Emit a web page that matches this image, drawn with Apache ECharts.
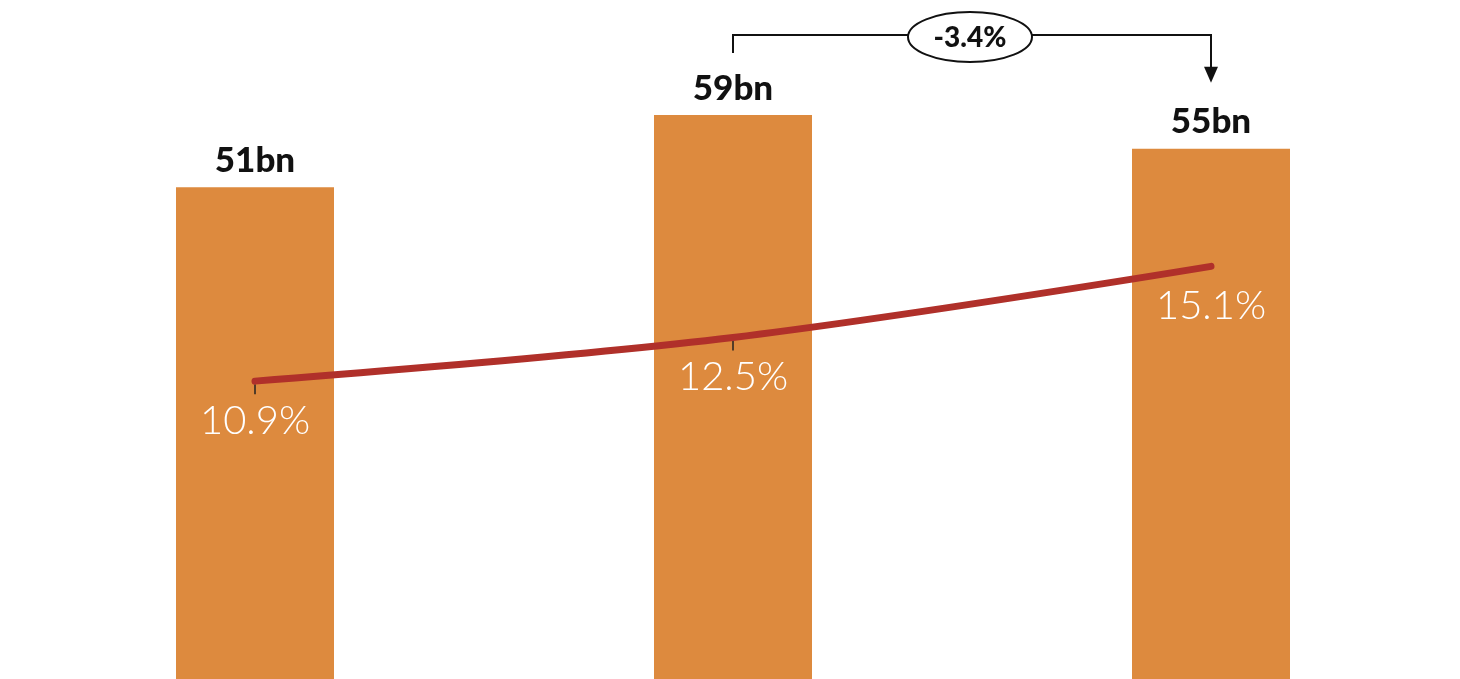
<!DOCTYPE html>
<html>
<head>
<meta charset="utf-8">
<script src="https://cdn.jsdelivr.net/npm/echarts@6/dist/echarts.min.js"></script>
<style>
html,body{margin:0;padding:0;background:#fff;}
#chart{width:1460px;height:679px;}
</style>
</head>
<body>
<div id="chart"></div>
<script>
const categories = ['A', 'B', 'C'];
const revenue = [51, 58.5, 55];          // bn
const margin = [10.9, 12.5, 15.1];       // %
const changeLabel = '-3.4%';

const chart = echarts.init(document.getElementById('chart'));
const option = {
  animation: false,
  backgroundColor: '#ffffff',
  grid: { left: 16, right: 10, top: 4, bottom: 0 },
  xAxis: {
    type: 'category', data: categories,
    axisLine: { show: false }, axisTick: { show: false }, axisLabel: { show: false }
  },
  yAxis: [
    { type: 'value', min: 0, max: 70, show: false, splitLine: { show: false } },
    { type: 'value', min: 0, max: 24.7, show: false, splitLine: { show: false } }
  ],
  series: [
    {
      type: 'bar', data: revenue, barWidth: 158, yAxisIndex: 0,
      itemStyle: { color: '#DD8A3E' },
      label: {
        show: true, position: 'top', distance: 9,
        formatter: p => Math.round(p.value) + 'bn',
        color: '#111', fontFamily: 'Lato', fontWeight: 900, fontSize: 35
      }
    },
    {
      type: 'line', data: margin, yAxisIndex: 1, smooth: 0.35,
      symbol: 'circle', symbolSize: 2, showSymbol: true,
      itemStyle: { color: 'transparent', borderWidth: 0 },
      lineStyle: { color: '#B0302A', width: 7, cap: 'round' },
      label: {
        show: true, position: 'bottom', distance: 19,
        formatter: p => p.value.toFixed(1) + '%',
        color: '#ffffff', fontFamily: 'Lato', fontWeight: 300, fontSize: 40
      },
      z: 5
    }
  ]
};
chart.setOption(option);

// annotation, positioned from the chart's own scales
const px = (i, v, ax) => chart.convertToPixel({ xAxisIndex: 0, yAxisIndex: ax }, [i, v]);
const b2 = px(1, revenue[1], 0);
const b3 = px(2, revenue[2], 0);
const bracketY = 35;
const leftY = b2[1] - 62;
const tipY = b3[1] - 66;
const midX = (b2[0] + b3[0]) / 2;
const graphics = [
  { type: 'polyline', z: 10, shape: { points: [[b2[0], leftY], [b2[0], bracketY], [b3[0], bracketY], [b3[0], tipY - 14]] },
    style: { stroke: '#111', lineWidth: 2, fill: null } },
  { type: 'polygon', z: 10, shape: { points: [[b3[0] - 7, tipY - 16], [b3[0] + 7, tipY - 16], [b3[0], tipY]] },
    style: { fill: '#111' } },
  { type: 'ellipse', z: 11, shape: { cx: midX - 2, cy: 37, rx: 62, ry: 25 },
    style: { fill: '#fff', stroke: '#111', lineWidth: 2 } },
  { type: 'text', z: 12, x: midX - 2, y: 38,
    style: { text: changeLabel, fill: '#111', fontFamily: 'Lato', fontWeight: 900, fontSize: 28,
             align: 'center', verticalAlign: 'middle' } }
];
// small leader ticks under the first two line points
for (let i = 0; i < 2; i++) {
  const p = px(i, margin[i], 1);
  graphics.push({ type: 'line', z: 4, shape: { x1: p[0], y1: p[1] + 3, x2: p[0], y2: p[1] + 13 },
    style: { stroke: '#222', lineWidth: 1.5 } });
}
chart.setOption({ graphic: graphics });
</script>
</body>
</html>
